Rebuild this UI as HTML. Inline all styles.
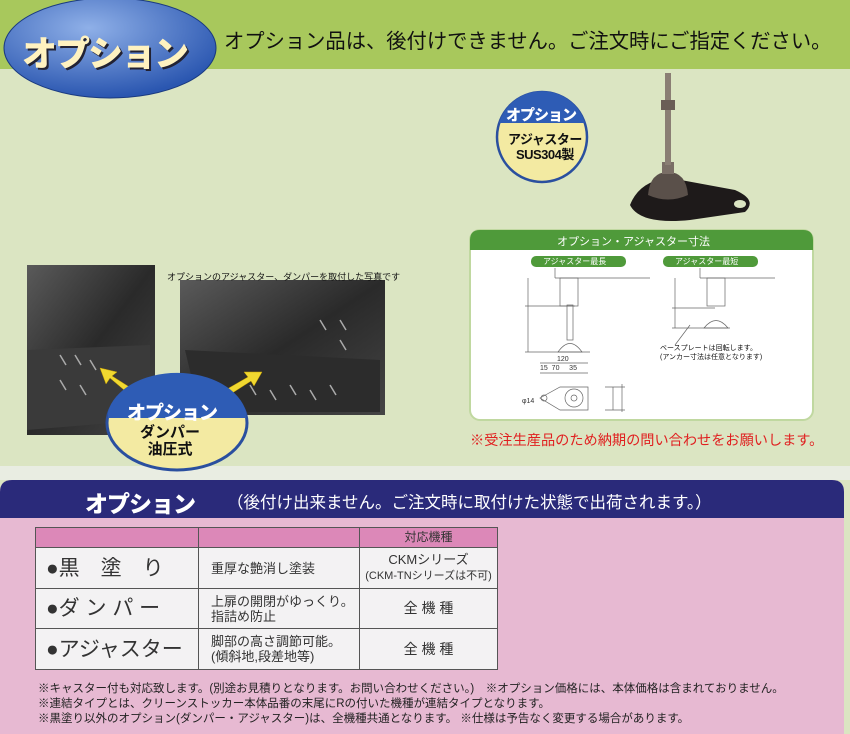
<!DOCTYPE html>
<html><head><meta charset="utf-8">
<style>
*{margin:0;padding:0;box-sizing:border-box}
body{width:850px;height:734px;position:relative;overflow:hidden;background:#dbe5c2;font-family:"Liberation Sans","Noto Sans CJK JP",sans-serif}
.a{position:absolute;white-space:nowrap}
table{border-collapse:collapse;position:absolute;left:35px;top:527px;width:463px}
td{border:1.5px solid #555;background:#f3f2f3;color:#333;font-size:13px;line-height:15px}
</style></head><body>
<svg class="a" style="left:0;top:0" width="850" height="734">
<defs>
<radialGradient id="bl" cx="40%" cy="30%" r="70%"><stop offset="0" stop-color="#8fb0e8"/><stop offset="1" stop-color="#2a56b0"/></radialGradient>
<linearGradient id="ph" x1="0" y1="0" x2="1" y2="1"><stop offset="0" stop-color="#5a5a5a"/><stop offset=".5" stop-color="#2a2a2a"/><stop offset="1" stop-color="#444"/></linearGradient>
</defs>
<rect x="0" y="0" width="850" height="69" fill="#a8c85c"/>
<rect x="0" y="466" width="850" height="14" fill="#e9ede2"/>
<path d="M0 492 Q0 480 12 480 L832 480 Q844 480 844 492 L844 734 L0 734Z" fill="#e7b9d2"/>
<path d="M0 492 Q0 480 12 480 L832 480 Q844 480 844 492 L844 518 L0 518Z" fill="#2a2a7a"/>
<ellipse cx="110" cy="48" rx="106" ry="50" fill="url(#bl)" stroke="#1a3a80" stroke-width="1"/>
<rect x="27" y="265" width="128" height="170" fill="url(#ph)"/>
<rect x="180" y="280" width="205" height="135" fill="url(#ph)"/>
<path d="M27 350 L150 345 L150 420 L27 430Z" fill="#3a3a3a"/>
<path d="M185 350 L380 360 L380 412 L200 412Z" fill="#2c2c2c"/>
<g stroke="#aaa" stroke-width="1.5">
<line x1="60" y1="355" x2="66" y2="365"/><line x1="75" y1="355" x2="81" y2="365"/><line x1="90" y1="360" x2="96" y2="370"/><line x1="60" y1="380" x2="66" y2="390"/><line x1="80" y1="385" x2="86" y2="395"/>
<line x1="250" y1="385" x2="256" y2="395"/><line x1="270" y1="390" x2="276" y2="400"/><line x1="290" y1="385" x2="296" y2="395"/><line x1="310" y1="390" x2="316" y2="400"/><line x1="330" y1="385" x2="336" y2="395"/><line x1="320" y1="320" x2="326" y2="330"/><line x1="340" y1="320" x2="346" y2="330"/><line x1="340" y1="340" x2="346" y2="350"/>
</g>
<path d="M130 395 L110 378 L106 384 L100 368 L117 372 L112 376 L134 390Z" fill="#f0d830" stroke="#c8a000" stroke-width=".5"/>
<path d="M222 392 L248 377 L244 372 L262 372 L254 386 L251 381 L226 397Z" fill="#f0d830" stroke="#c8a000" stroke-width=".5"/>
<ellipse cx="177" cy="423" rx="70" ry="47" fill="#f3eaa2" stroke="#2a4f9f" stroke-width="3"/>
<path d="M108 412 A70 47 0 0 1 246 412 L246 418 L108 418Z" fill="#2e5cb5"/>
<circle cx="542" cy="137" r="45" fill="#f3eaa2" stroke="#2a4f9f" stroke-width="2.5"/>
<path d="M499 123 A45 45 0 0 1 585 123Z" fill="#2e5cb5"/>
<path d="M630 205 Q640 180 670 178 L735 190 Q758 200 745 212 L690 220 Q640 225 630 205Z" fill="#1e1a1a"/>
<ellipse cx="740" cy="204" rx="6" ry="4" fill="#dbe5c2"/>
<path d="M648 195 Q650 172 668 172 Q686 172 688 195 Q668 204 648 195Z" fill="#5a504a"/>
<rect x="662" y="162" width="12" height="12" fill="#7a6e66"/>
<rect x="665" y="73" width="6" height="92" fill="#8a7e74"/>
<rect x="661" y="100" width="14" height="10" fill="#6a5e56"/>
<rect x="470" y="230" width="343" height="190" rx="10" fill="#fff" stroke="#c0d8a0" stroke-width="2"/>
<path d="M470 240 Q470 230 480 230 L803 230 Q813 230 813 240 L813 250 L470 250Z" fill="#4f9a3a"/>
<rect x="531" y="256" width="95" height="11" rx="5" fill="#4f9a3a"/>
<rect x="663" y="256" width="95" height="11" rx="5" fill="#4f9a3a"/>
<g stroke="#666" stroke-width=".7" fill="none">
<line x1="555" y1="278" x2="650" y2="278"/><line x1="555" y1="268" x2="555" y2="278"/>
<rect x="560" y="278" width="18" height="28"/><line x1="528" y1="278" x2="528" y2="352"/>
<line x1="525" y1="306" x2="575" y2="306"/><line x1="525" y1="352" x2="590" y2="352"/>
<rect x="567" y="305" width="6" height="35"/><path d="M558 352 Q570 335 582 352Z"/>
<line x1="540" y1="363" x2="588" y2="363"/><line x1="540" y1="373" x2="588" y2="373"/>
<path d="M540 398 L560 387 L588 387 L588 410 L560 410Z"/><circle cx="574" cy="398" r="9"/><circle cx="574" cy="398" r="3"/><circle cx="544" cy="398" r="3"/>
<line x1="605" y1="387" x2="625" y2="387"/><line x1="605" y1="410" x2="625" y2="410"/><line x1="613" y1="387" x2="613" y2="410"/><line x1="622" y1="384" x2="622" y2="412"/>
<line x1="700" y1="278" x2="775" y2="278"/><line x1="700" y1="268" x2="700" y2="278"/>
<rect x="707" y="278" width="18" height="28"/><line x1="675" y1="278" x2="675" y2="328"/>
<line x1="672" y1="308" x2="715" y2="308"/><line x1="672" y1="328" x2="730" y2="328"/>
<path d="M704 328 Q716 313 728 328Z"/><line x1="690" y1="325" x2="675" y2="345"/>
</g>
</svg>
<div class="a" style="left:22px;top:26px;font-size:35px;font-weight:900;color:#fff2c0;letter-spacing:-2px;text-shadow:2px 2px 0 #223">オプション</div>
<div class="a" style="left:224px;top:24px;font-size:20.3px;color:#111">オプション品は、後付けできません。ご注文時にご指定ください。</div>
<div class="a" style="left:506px;top:104px;font-size:15px;font-weight:900;color:#fff;letter-spacing:-1px">オプション</div>
<div class="a" style="left:508px;top:132px;font-size:13px;font-weight:bold;color:#111;line-height:15px;text-align:center;letter-spacing:-.5px">アジャスター<br>SUS304製</div>
<div class="a" style="left:127px;top:398px;font-size:19px;font-weight:900;color:#fff;letter-spacing:-1px">オプション</div>
<div class="a" style="left:140px;top:424px;font-size:15px;font-weight:bold;color:#111;line-height:17px;text-align:center">ダンパー<br>油圧式</div>
<div class="a" style="left:167px;top:270px;font-size:9px;color:#111">オプションのアジャスター、ダンパーを取付した写真です</div>
<div class="a" style="left:557px;top:233px;font-size:11px;color:#fff">オプション・アジャスター寸法</div>
<div class="a" style="left:543px;top:256px;font-size:8px;color:#fff">アジャスター最長</div>
<div class="a" style="left:675px;top:256px;font-size:8px;color:#fff">アジャスター最短</div>
<div class="a" style="left:660px;top:344px;font-size:7px;color:#111;line-height:9px">ベースプレートは回転します。<br>(アンカー寸法は任意となります)</div>
<div class="a" style="left:557px;top:356px;font-size:7px;color:#333">120</div>
<div class="a" style="left:540px;top:365px;font-size:7px;color:#333">15&nbsp;&nbsp;70&nbsp;&nbsp;&nbsp;&nbsp;&nbsp;35</div>
<div class="a" style="left:522px;top:398px;font-size:7px;color:#333">φ14</div>
<div class="a" style="left:470px;top:430px;font-size:14.2px;color:#e02020">※受注生産品のため納期の問い合わせをお願いします。</div>
<div class="a" style="left:85px;top:485px;font-size:23px;font-weight:900;color:#fff;letter-spacing:-1px">オプション</div>
<div class="a" style="left:227px;top:489px;font-size:16.5px;color:#fff">（後付け出来ません。ご注文時に取付けた状態で出荷されます。）</div>
<table>
<tr style="height:20px"><td style="width:163px;background:#dc88b8"></td><td style="width:161px;background:#dc88b8"></td><td style="background:#dc88b8;text-align:center;font-size:12px">対応機種</td></tr>
<tr style="height:41px"><td style="font-size:21px;padding-left:10px">●黒　塗　り</td><td style="padding-left:12px">重厚な艶消し塗装</td><td style="text-align:center">CKMシリーズ<br><span style="font-size:11px">(CKM-TNシリーズは不可)</span></td></tr>
<tr style="height:40px"><td style="font-size:21px;padding-left:10px">●ダ ン パ ー</td><td style="padding-left:12px">上扉の開閉がゆっくり。<br>指詰め防止</td><td style="text-align:center;font-size:14px">全 機 種</td></tr>
<tr style="height:41px"><td style="font-size:21px;padding-left:10px">●アジャスター</td><td style="padding-left:12px">脚部の高さ調節可能。<br>(傾斜地,段差地等)</td><td style="text-align:center;font-size:14px">全 機 種</td></tr>
</table>
<div class="a" style="left:38px;top:682px;font-size:11.5px;color:#222;line-height:15px">※キャスター付も対応致します。(別途お見積りとなります。お問い合わせください。)　※オプション価格には、本体価格は含まれておりません。<br>※連結タイプとは、クリーンストッカー本体品番の末尾にRの付いた機種が連結タイプとなります。<br>※黒塗り以外のオプション(ダンパー・アジャスター)は、全機種共通となります。 ※仕様は予告なく変更する場合があります。</div>
</body></html>
